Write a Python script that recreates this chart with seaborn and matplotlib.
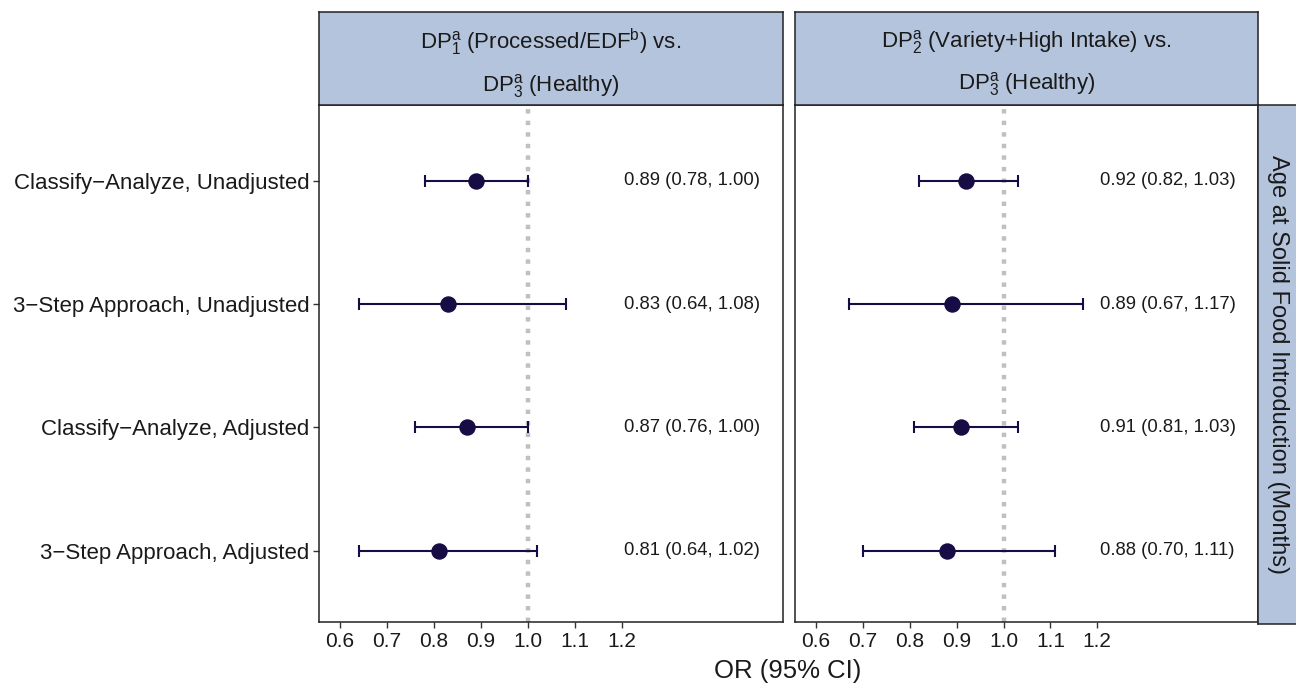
import matplotlib
matplotlib.use("Agg")
import matplotlib.pyplot as plt
import seaborn as sns
import pandas as pd

sns.set_theme(style="white")
plt.rcParams['font.family'] = ['Liberation Sans', 'DejaVu Sans']
plt.rcParams['mathtext.fontset'] = 'custom'
plt.rcParams['mathtext.rm'] = 'Liberation Sans'
plt.rcParams['mathtext.it'] = 'Liberation Sans:italic'

models = ["Classify\u2212Analyze, Unadjusted", "3\u2212Step Approach, Unadjusted",
          "Classify\u2212Analyze, Adjusted", "3\u2212Step Approach, Adjusted"]
panels = [r"DP$\mathrm{^{a}_{1}}$ (Processed/EDF$\mathrm{^{b}}$) vs." "\n" r"DP$\mathrm{^{a}_{3}}$ (Healthy)",
          r"DP$\mathrm{^{a}_{2}}$ (Variety+High Intake) vs." "\n" r"DP$\mathrm{^{a}_{3}}$ (Healthy)"]
or1 = [0.89, 0.83, 0.87, 0.81]
lo1 = [0.78, 0.64, 0.76, 0.64]
hi1 = [1.00, 1.08, 1.00, 1.02]
or2 = [0.92, 0.89, 0.91, 0.88]
lo2 = [0.82, 0.67, 0.81, 0.70]
hi2 = [1.03, 1.17, 1.03, 1.11]
xticks = [0.6, 0.7, 0.8, 0.9, 1.0, 1.1, 1.2]
row_label = "Age at Solid Food Introduction (Months)"
xlabel = "OR (95% CI)"

W, H = 1296, 683
fig = plt.figure(figsize=(W / 100, H / 100), dpi=100)

strip_fill = "#b4c4dc"
pt_color = "#170c44"
panel_px = [(319, 783), (795, 1258)]
ptop, pbot = 105, 622
stop = 12

datasets = [(or1, lo1, hi1), (or2, lo2, hi2)]
for i, ((x0, x1), (o, l, h)) in enumerate(zip(panel_px, datasets)):
    ax = fig.add_axes([x0 / W, 1 - pbot / H, (x1 - x0) / W, (pbot - ptop) / H])
    df = pd.DataFrame({"model": models, "y": [1, 2, 3, 4], "or": o, "lo": l, "hi": h})
    ax.axvline(1.0, color="#c0c0c0", linestyle=(0, (1, 1.6)), linewidth=3.2, zorder=1)
    ax.errorbar(df["or"], df["y"], xerr=[df["or"] - df["lo"], df["hi"] - df["or"]],
                fmt="none", ecolor=pt_color, elinewidth=1.5, capsize=4, capthick=1.5, zorder=2)
    sns.scatterplot(data=df, x="or", y="y", ax=ax, color=pt_color, s=140,
                    edgecolor=pt_color, linewidth=0, zorder=3, legend=False)
    for _, r in df.iterrows():
        ax.text(1.35, r["y"], f"{r['or']:.2f} ({r['lo']:.2f}, {r['hi']:.2f})",
                ha="center", va="center", fontsize=13.3, color="#1a1a1a")
    ax.set_xlim(0.555, 1.543)
    ax.set_ylim(4.58, 0.385)
    ax.set_xticks(xticks)
    ax.set_xticklabels([f"{t:.1f}" for t in xticks], fontsize=15, color="#1a1a1a")
    ax.set_xlabel("")
    ax.set_ylabel("")
    ax.set_yticks([1, 2, 3, 4])
    if i == 0:
        ax.set_yticklabels(models, fontsize=16, color="#1a1a1a")
        ax.tick_params(axis="y", length=4, width=1, color="#333333", left=True, pad=3)
    else:
        ax.set_yticklabels([])
        ax.tick_params(axis="y", length=0, left=False)
    ax.tick_params(axis="x", length=4, width=1, color="#333333", bottom=True, pad=3)
    for s in ax.spines.values():
        s.set_color("#222222")
        s.set_linewidth(1.1)
    # strip on top
    sax = fig.add_axes([x0 / W, 1 - ptop / H, (x1 - x0) / W, (ptop - stop) / H])
    sax.set_facecolor(strip_fill)
    sax.set_xticks([]); sax.set_yticks([])
    for s in sax.spines.values():
        s.set_color("#222222")
        s.set_linewidth(1.1)
    sax.text(0.5, 0.45, panels[i], ha="center", va="center", fontsize=16,
             color="#1a1a1a", transform=sax.transAxes, linespacing=1.7)

# right strip
rax = fig.add_axes([1258 / W, 1 - 624 / H, 40 / W, (624 - 105) / H])
rax.set_facecolor(strip_fill)
rax.set_xticks([]); rax.set_yticks([])
for s in rax.spines.values():
    s.set_color("#222222")
    s.set_linewidth(1.1)
rax.text(0.5, 0.5, row_label, rotation=-90, ha="center", va="center", fontsize=17,
         color="#1a1a1a", transform=rax.transAxes)

fig.text(788 / W, 1 - 671 / H, xlabel, ha="center", va="center", fontsize=18.5, color="#1a1a1a")

fig.savefig("out.png", dpi=100)
